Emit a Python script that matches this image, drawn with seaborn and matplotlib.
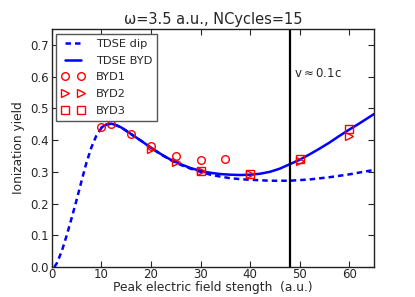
import matplotlib
matplotlib.use("Agg")
import matplotlib.pyplot as plt
import numpy as np
import seaborn as sns

# TDSE curves
dip_x = [0.5, 1, 2, 3, 4, 5, 6, 7, 8, 9, 10, 11, 12, 13, 14, 16, 18, 20, 22, 24,
         26, 28, 30, 32, 34, 36, 38, 40, 44, 48, 52, 56, 60, 65]
dip_y = [0.0, 0.012, 0.05, 0.1, 0.155, 0.212, 0.272, 0.33, 0.378, 0.415, 0.438,
         0.449, 0.452, 0.447, 0.44, 0.419, 0.398, 0.376, 0.355, 0.337, 0.322,
         0.31, 0.3, 0.291, 0.285, 0.28, 0.277, 0.275, 0.272, 0.272, 0.276,
         0.283, 0.292, 0.306]

byd_x = [10, 11, 12, 13, 14, 16, 18, 20, 22, 24, 26, 28, 30, 32, 34, 36, 38, 40,
         42, 44, 46, 48, 50, 52, 54, 56, 58, 60, 62, 65]
byd_y = [0.44, 0.449, 0.452, 0.447, 0.44, 0.419, 0.398, 0.376, 0.356, 0.338,
         0.324, 0.312, 0.303, 0.297, 0.293, 0.291, 0.29, 0.291, 0.294, 0.3,
         0.31, 0.324, 0.338, 0.355, 0.373, 0.392, 0.413, 0.433, 0.452, 0.482]

# BYD sample points
byd1_x = [10, 12, 16, 20, 25, 30, 35]
byd1_y = [0.44, 0.452, 0.418, 0.381, 0.349, 0.336, 0.341]
byd2_x = [20, 25, 30, 40, 50, 60]
byd2_y = [0.371, 0.332, 0.303, 0.293, 0.333, 0.413]
byd3_x = [30, 40, 50, 60]
byd3_y = [0.303, 0.292, 0.341, 0.435]

v_limit = 48  # field where v ~ 0.1c

sns.set_style("ticks")
plt.rcParams.update({
    "font.family": ["DejaVu Sans"],
    "xtick.direction": "in",
    "ytick.direction": "in",
    "xtick.top": True,
    "ytick.right": True,
    "axes.edgecolor": "#222222",
    "axes.linewidth": 1.0,
})

fig = plt.figure(figsize=(4.15, 2.97), dpi=100)
ax = fig.add_axes([0.125, 0.101, 0.776, 0.801])

sns.lineplot(x=dip_x, y=dip_y, ax=ax, color="blue", lw=1.8, sort=False,
             errorbar=None, label="TDSE dip")
ax.lines[-1].set_dashes((2.2, 1.6))
sns.lineplot(x=byd_x, y=byd_y, ax=ax, color="blue", lw=1.8, sort=False,
             errorbar=None, label="TDSE BYD")

mk = dict(linestyle="", mfc="none", mec="red", mew=1.0, ms=5.5, color="red",
          sort=False, errorbar=None)
sns.lineplot(x=byd1_x, y=byd1_y, ax=ax, marker="o", label="BYD1", **mk)
sns.lineplot(x=byd2_x, y=byd2_y, ax=ax, marker=">", label="BYD2", **mk)
sns.lineplot(x=byd3_x, y=byd3_y, ax=ax, marker="s", label="BYD3", **mk)

ax.axvline(v_limit, color="black", lw=1.6)
ax.text(v_limit + 0.8, 0.61, r"$\mathregular{v \approx 0.1c}$", fontsize=8.5,
        va="center", ha="left")

ax.set_xlim(0, 65)
ax.set_ylim(0, 0.75)
ax.set_xticks(np.arange(0, 61, 10))
ax.set_yticks(np.arange(0, 0.71, 0.1))
ax.set_yticklabels([f"{v:.1f}" for v in np.arange(0, 0.71, 0.1)])
ax.tick_params(labelsize=8.5, length=4, width=0.8, pad=2)
ax.tick_params(axis="x", pad=1)

ax.set_title("ω=3.5 a.u., NCycles=15", fontsize=10.5, pad=4)
ax.set_xlabel("Peak electric field stength  (a.u.)", fontsize=8.8, labelpad=0)
ax.set_ylabel("Ionization yield", fontsize=8.8, labelpad=4)

leg = ax.legend(loc="upper left", numpoints=2, fontsize=8.2, fancybox=False,
                framealpha=1, edgecolor="#555555", borderaxespad=0.4,
                handlelength=2.0, labelspacing=0.6, borderpad=0.45,
                handletextpad=1.0)
leg.get_frame().set_linewidth(1.0)

fig.savefig("out.png", dpi=100)
